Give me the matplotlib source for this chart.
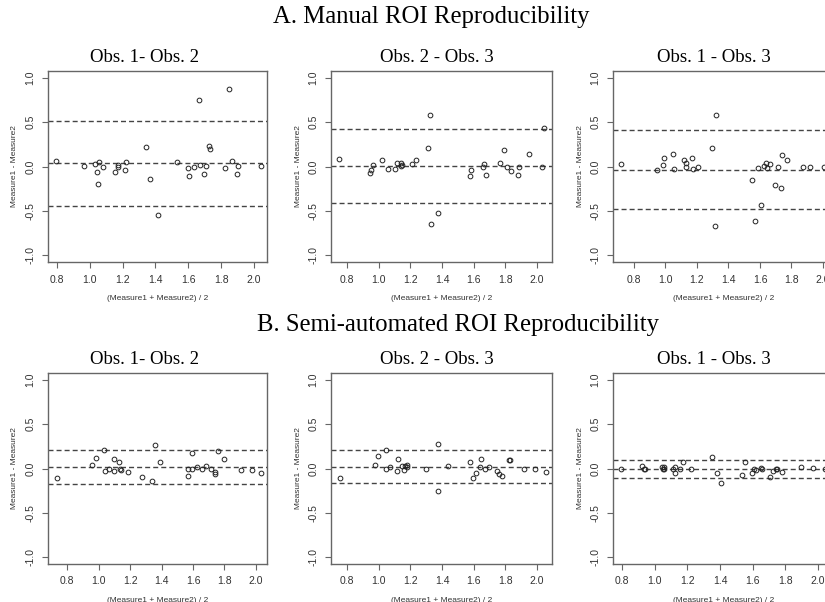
import matplotlib
matplotlib.use("Agg")
import matplotlib.pyplot as plt

# ---- data (mean of pair, difference) ----
a12_x = [0.796, 0.963, 1.034, 1.042, 1.052, 1.058, 1.081, 1.156, 1.17, 1.17, 1.217, 1.223, 1.341, 1.367,
         1.418, 1.53, 1.60, 1.607, 1.636, 1.668, 1.672, 1.693, 1.707, 1.725, 1.735, 1.823, 1.849, 1.868,
         1.896, 1.906, 2.045]
a12_y = [0.064, 0.01, 0.03, -0.064, -0.2, 0.056, 0.0, -0.064, 0.02, -0.01, -0.045, 0.056, 0.218, -0.136,
         -0.55, 0.053, -0.015, -0.105, -0.004, 0.757, 0.019, -0.09, 0.008, 0.23, 0.203, -0.02, 0.878, 0.064,
         -0.083, 0.008, 0.008]
a12_lines = [0.52, 0.04, -0.445]

a23_x = [0.747, 0.944, 0.95, 0.963, 1.02, 1.058, 1.102, 1.113, 1.142, 1.144, 1.149, 1.208, 1.233, 1.309,
         1.326, 1.33, 1.375, 1.575, 1.586, 1.662, 1.668, 1.677, 1.765, 1.791, 1.812, 1.839, 1.882, 1.888,
         1.947, 2.032, 2.047]
a23_y = [0.087, -0.072, -0.045, 0.019, 0.068, -0.023, -0.027, 0.042, 0.034, 0.008, 0.019, 0.027, 0.068,
         0.212, 0.583, -0.648, -0.523, -0.106, -0.045, 0.0, 0.023, -0.098, 0.045, 0.186, 0.0, -0.053,
         -0.098, 0.0, 0.14, -0.008, 0.436]
a23_lines = [0.425, 0.008, -0.417]

a13_x = [0.715, 0.948, 0.986, 0.99, 1.045, 1.056, 1.115, 1.132, 1.13, 1.166, 1.175, 1.204, 1.293, 1.323,
         1.313, 1.55, 1.59, 1.571, 1.605, 1.626, 1.639, 1.645, 1.664, 1.693, 1.712, 1.733, 1.741, 1.769,
         1.875, 1.915, 2.006]
a13_y = [0.027, -0.045, 0.019, 0.098, 0.14, -0.03, 0.068, 0.045, 0.0, 0.098, -0.03, 0.0, 0.212, 0.583,
         -0.674, -0.152, -0.019, -0.614, -0.432, 0.011, 0.034, -0.019, 0.027, -0.212, -0.008, -0.242,
         0.125, 0.072, 0.0, -0.008, -0.008]
a13_lines = [0.415, -0.038, -0.475]

b12_x = [0.737, 0.958, 0.987, 1.032, 1.038, 1.068, 1.097, 1.1, 1.133, 1.135, 1.144, 1.188, 1.279, 1.342,
         1.357, 1.393, 1.569, 1.569, 1.594, 1.594, 1.628, 1.655, 1.68, 1.716, 1.738, 1.742, 1.761, 1.797,
         1.905, 1.975, 2.034]
b12_y = [-0.106, 0.042, 0.117, 0.211, -0.026, 0.0, -0.026, 0.106, 0.068, 0.0, -0.015, -0.034, -0.094,
         -0.14, 0.264, 0.079, -0.087, 0.0, -0.008, 0.174, 0.019, -0.008, 0.03, 0.0, -0.038, -0.057, 0.196,
         0.106, -0.015, -0.015, -0.053]
b12_lines = [0.211, 0.019, -0.17]

b23_x = [0.754, 0.978, 0.993, 1.046, 1.046, 1.072, 1.116, 1.12, 1.148, 1.159, 1.169, 1.176, 1.18, 1.3,
         1.376, 1.376, 1.435, 1.575, 1.594, 1.615, 1.642, 1.649, 1.67, 1.7, 1.748, 1.763, 1.778, 1.822,
         1.827, 1.918, 1.99, 2.056]
b23_y = [-0.106, 0.042, 0.14, 0.211, 0.0, 0.019, -0.026, 0.106, 0.023, -0.015, 0.026, 0.038, 0.019,
         -0.008, 0.275, -0.257, 0.023, 0.079, -0.106, -0.053, 0.019, 0.106, 0.0, 0.019, -0.026, -0.057,
         -0.087, 0.098, 0.098, 0.0, -0.008, -0.045]
b23_lines = [0.211, 0.019, -0.168]

b13_x = [0.796, 0.922, 0.932, 0.942, 1.044, 1.05, 1.06, 1.06, 1.113, 1.125, 1.127, 1.156, 1.176, 1.223,
         1.351, 1.38, 1.408, 1.537, 1.553, 1.594, 1.608, 1.618, 1.65, 1.66, 1.707, 1.724, 1.742, 1.75,
         1.78, 1.894, 1.971, 2.04]
b13_y = [0.0, 0.026, 0.0, 0.0, 0.019, 0.0, 0.019, 0.0, 0.0, 0.019, -0.053, 0.0, 0.075, 0.0, 0.132, -0.053,
         -0.162, -0.079, 0.079, -0.053, 0.0, -0.015, 0.008, -0.008, -0.094, -0.026, -0.008, -0.008, -0.034,
         0.019, 0.008, -0.008]
b13_lines = [0.098, -0.008, -0.102]

titles = ["Obs. 1- Obs. 2", "Obs. 2 - Obs. 3", "Obs. 1 - Obs. 3"]
row_titles = ["A. Manual ROI Reproducibility", "B. Semi-automated ROI Reproducibility"]
xticks = [0.8, 1.0, 1.2, 1.4, 1.6, 1.8, 2.0]
yticks = [-1.0, -0.5, 0.0, 0.5, 1.0]

W, H = 825, 602
SERIF = "Liberation Serif"
SANS = "Liberation Sans"
GREY = "#333333"
EDGE = "#666666"

# pixel layout: (left, right) per column, (top, bottom) per row, x-limits per panel
cols = [(48, 267), (331, 552), (613, 834)]
rows = [(71, 262), (373, 564)]
xlims = [[(0.745, 2.08), (0.699, 2.095), (0.667, 2.07)],
         [(0.679, 2.07), (0.699, 2.095), (0.745, 2.098)]]
title_cx = [[145, 437, 714], [145, 437, 714]]
row_title_pos = [(431, 17), (458, 325)]
panels = [[(a12_x, a12_y, a12_lines), (a23_x, a23_y, a23_lines), (a13_x, a13_y, a13_lines)],
          [(b12_x, b12_y, b12_lines), (b23_x, b23_y, b23_lines), (b13_x, b13_y, b13_lines)]]

fig = plt.figure(figsize=(W / 100, H / 100), dpi=100)
fig.patch.set_facecolor("white")

for r, (top, bot) in enumerate(rows):
    for c, (lft, rgt) in enumerate(cols):
        xs, ys, lines = panels[r][c]
        ax = fig.add_axes([lft / W, 1 - bot / H, (rgt - lft) / W, (bot - top) / H])
        for lv in lines:
            ax.axhline(lv, color="#444444", lw=1.0, dashes=(3.6, 2.2))
        ax.plot(xs, ys, "o", mfc="none", mec="#222222", ms=3.4, mew=0.7)
        ax.set_xlim(*xlims[r][c])
        ax.set_ylim(-1.08, 1.08)
        ax.set_xticks(xticks)
        ax.set_yticks(yticks)
        ax.set_xticklabels([f"{t:.1f}" for t in xticks], family=SANS, fontsize=7.5, color=GREY)
        ax.set_yticklabels([f"{t:.1f}" for t in yticks], family=SANS, fontsize=7.5, color=GREY,
                           rotation=90, va="center")
        ax.tick_params(length=4, width=0.8, color=EDGE, pad=5)
        for s in ax.spines.values():
            s.set_color(EDGE)
            s.set_linewidth(1.0)
        fig.text((lft - 33) / W, 1 - (top + bot) / 2 / H, "Measure1 - Measure2", rotation=90,
                 ha="center", va="center", family=SANS, fontsize=6, color=GREY)
        fig.text((lft + rgt) / 2 / W, 1 - (bot + 36) / H, "(Measure1 + Measure2) / 2",
                 ha="center", va="center", family=SANS, fontsize=6, color=GREY)
        fig.text(title_cx[r][c] / W, 1 - (top - 14) / H, titles[c], ha="center", va="center",
                 family=SERIF, fontsize=13.5, color="black")

for (cx, cy), t in zip(row_title_pos, row_titles):
    fig.text(cx / W, 1 - cy / H, t, ha="center", va="center", family=SERIF, fontsize=17.8)

fig.savefig("out.png", dpi=100, facecolor="white")
